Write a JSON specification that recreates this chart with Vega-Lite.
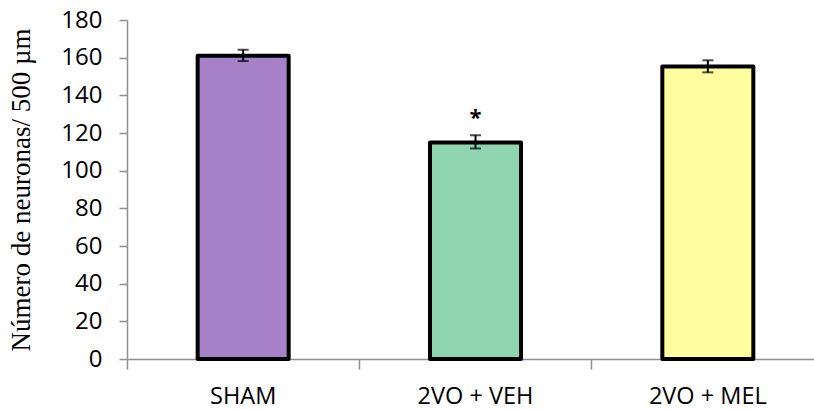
{
  "$schema": "https://vega.github.io/schema/vega-lite/v6.json",
  "autosize": "none",
  "width": 687,
  "height": 339,
  "padding": {"left": 127, "top": 20, "right": 0, "bottom": 50},
  "background": "white",
  "config": {
    "view": {"stroke": null},
    "axisY": {
      "labelOverlap": false,
      "grid": false,
      "tickSize": 8,
      "tickColor": "#8f8f8f",
      "tickWidth": 1.5,
      "domainColor": "#8f8f8f",
      "domainWidth": 1.5,
      "labelFont": "Open Sans",
      "labelFontSize": 24,
      "labelColor": "black",
      "labelPadding": 17,
      "titleFont": "Liberation Serif",
      "titleFontSize": 27,
      "titleFontWeight": "normal",
      "titleColor": "black",
      "titleX": -92,
      "titleY": 169.5,
      "titleAngle": -90,
      "titleAlign": "center",
      "titleBaseline": "bottom"
    }
  },
  "data": {
    "values": [
      {"group": "SHAM", "mean": 161, "lo": 158.2, "hi": 164.2, "sig": "", "sigy": 0},
      {"group": "2VO + VEH", "mean": 115, "lo": 111.8, "hi": 118.8, "sig": "*", "sigy": 124},
      {"group": "2VO + MEL", "mean": 155.3, "lo": 152.2, "hi": 158.6, "sig": "", "sigy": 0}
    ]
  },
  "encoding": {
    "x": {
      "field": "group",
      "type": "nominal",
      "sort": null,
      "scale": {"range": [0, 697], "paddingInner": 0, "paddingOuter": 0},
      "axis": {
        "title": null,
        "bandPosition": 0,
        "labelAngle": 0,
        "labelFont": "Open Sans",
        "labelFontSize": 23.5,
        "labelColor": "black",
        "labelPadding": 15,
        "tickSize": 10,
        "tickColor": "#8f8f8f",
        "tickWidth": 1.5,
        "domainColor": "#8f8f8f",
        "domainWidth": 1.5
      }
    }
  },
  "layer": [
    {
      "mark": {"type": "bar", "size": 91, "stroke": "black", "strokeWidth": 4, "strokeJoin": "round"},
      "encoding": {
        "y": {
          "field": "mean",
          "type": "quantitative",
          "scale": {"domain": [0, 180], "nice": false},
          "axis": {"values": [0, 20, 40, 60, 80, 100, 120, 140, 160, 180], "title": "Número de neuronas/ 500 µm"}
        },
        "fill": {
          "field": "group",
          "type": "nominal",
          "scale": {"domain": ["SHAM", "2VO + VEH", "2VO + MEL"], "range": ["#a781c7", "#8fd6b0", "#ffffa0"]},
          "legend": null
        }
      }
    },
    {
      "mark": {"type": "rule", "color": "black", "strokeWidth": 2},
      "encoding": {
        "y": {"field": "lo", "type": "quantitative", "axis": {"values": [0, 20, 40, 60, 80, 100, 120, 140, 160, 180], "title": "Número de neuronas/ 500 µm"}},
        "y2": {"field": "hi"}
      }
    },
    {
      "mark": {"type": "tick", "color": "black", "size": 11, "thickness": 2},
      "encoding": {"y": {"field": "lo", "type": "quantitative", "axis": {"values": [0, 20, 40, 60, 80, 100, 120, 140, 160, 180], "title": "Número de neuronas/ 500 µm"}}}
    },
    {
      "mark": {"type": "tick", "color": "black", "size": 11, "thickness": 2},
      "encoding": {"y": {"field": "hi", "type": "quantitative", "axis": {"values": [0, 20, 40, 60, 80, 100, 120, 140, 160, 180], "title": "Número de neuronas/ 500 µm"}}}
    },
    {
      "mark": {"type": "text", "font": "Open Sans", "fontSize": 22, "fontWeight": "bold", "color": "black", "baseline": "alphabetic", "align": "center"},
      "encoding": {
        "y": {"field": "sigy", "type": "quantitative", "axis": {"values": [0, 20, 40, 60, 80, 100, 120, 140, 160, 180], "title": "Número de neuronas/ 500 µm"}},
        "text": {"field": "sig"}
      }
    }
  ]
}
